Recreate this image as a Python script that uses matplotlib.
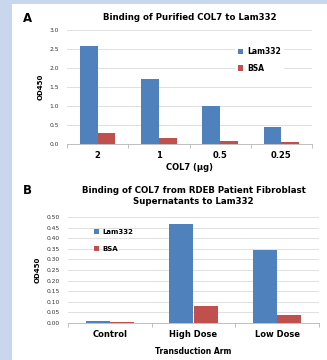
import numpy as np
import matplotlib.pyplot as plt
from matplotlib.patches import Rectangle

# Panel A data
a_categories = ['2', '1', '0.5', '0.25']
a_lam332 = [2.58, 1.70, 1.01, 0.46]
a_bsa = [0.30, 0.16, 0.08, 0.05]
a_yticks = [0.0, 0.5, 1.0, 1.5, 2.0, 2.5, 3.0]

# Panel B data
b_categories = ['Control', 'High Dose', 'Low Dose']
b_lam332 = [0.010, 0.467, 0.343]
b_bsa = [0.004, 0.078, 0.040]
b_yticks = [0.0, 0.05, 0.10, 0.15, 0.20, 0.25, 0.30, 0.35, 0.40, 0.45, 0.50]

BLUE = '#4F81BD'
RED = '#C0504D'
GRID = '#E0E0E0'
AXIS = '#BFBFBF'
W, H = 327, 360

plt.rcParams['font.family'] = ['DejaVu Sans']

fig = plt.figure(figsize=(W / 100, H / 100), dpi=100)
fig.patch.set_facecolor('#C8D6EE')
fig.patches.append(Rectangle((12 / W, 0), 1, 1 - 4 / H, transform=fig.transFigure,
                             facecolor='white', edgecolor='none', zorder=-5))


def px_axes(left, top, right, bottom):
    return fig.add_axes([left / W, 1 - bottom / H, (right - left) / W, (bottom - top) / H])


def draw_panel(ax, cats, lam, bsa, yticks, fmt):
    x = np.arange(len(cats))
    bw = 0.29
    ax.bar(x - bw / 2, lam, bw, color=BLUE, label='Lam332', zorder=3)
    ax.bar(x + bw / 2, bsa, bw, color=RED, label='BSA', zorder=3)
    ax.set_xlim(-0.5, len(cats) - 0.5)
    ax.set_ylim(yticks[0], yticks[-1])
    ax.set_yticks(yticks)
    ax.set_yticklabels([fmt.format(t) for t in yticks], fontsize=4.3, color='#333333')
    ax.set_xticks(x)
    ax.set_xticklabels(cats, fontsize=6, fontweight='bold')
    ax.set_xticks(np.arange(len(cats) + 1) - 0.5, minor=True)
    ax.tick_params(axis='x', which='major', length=0, pad=5)
    ax.tick_params(axis='x', which='minor', length=3, color=AXIS, width=0.7)
    ax.tick_params(axis='y', length=0, pad=6)
    ax.yaxis.grid(True, color=GRID, linewidth=0.7, zorder=0)
    ax.set_axisbelow(True)
    for s in ['top', 'right']:
        ax.spines[s].set_visible(False)
    ax.spines['left'].set_visible(False)
    ax.spines['bottom'].set_color(AXIS)
    ax.spines['bottom'].set_linewidth(0.7)


# Panel A
axA = px_axes(67, 30, 312, 144)
draw_panel(axA, a_categories, a_lam332, a_bsa, a_yticks, '{:.1f}')
axA.set_title('Binding of Purified COL7 to Lam332', fontsize=6.2, fontweight='bold', pad=7)
axA.set_xlabel('COL7 (μg)', fontsize=6, fontweight='bold', labelpad=2)
axA.set_ylabel('OD450', fontsize=5, fontweight='bold', labelpad=4)
axA.legend(loc='upper left', bbox_to_anchor=(0.67, 0.91),
           frameon=True, framealpha=1, edgecolor='none', handlelength=0.7,
           handleheight=0.7, handletextpad=0.5, labelspacing=1.0,
           borderpad=0.4, prop={'weight': 'bold', 'size': 5.5})
fig.text(23 / W, 1 - 18 / H, 'A', fontsize=8.5, fontweight='bold', va='center')

# Panel B
axB = px_axes(68, 217, 319, 323)
draw_panel(axB, b_categories, b_lam332, b_bsa, b_yticks, '{:.2f}')
axB.set_title('Binding of COL7 from RDEB Patient Fibroblast\nSupernatants to Lam332',
              fontsize=6.2, fontweight='bold', pad=9, linespacing=1.3)
axB.set_xlabel('Transduction Arm', fontsize=5.5, fontweight='bold', labelpad=6)
axB.set_ylabel('OD450', fontsize=5, fontweight='bold', labelpad=4)
axB.legend(loc='upper left', bbox_to_anchor=(0.08, 0.95), frameon=False,
           handlelength=0.7, handleheight=0.7, handletextpad=0.5, labelspacing=1.6,
           prop={'weight': 'bold', 'size': 5})
fig.text(23 / W, 1 - 191 / H, 'B', fontsize=8.5, fontweight='bold', va='center')

fig.savefig('out.png', dpi=100)
